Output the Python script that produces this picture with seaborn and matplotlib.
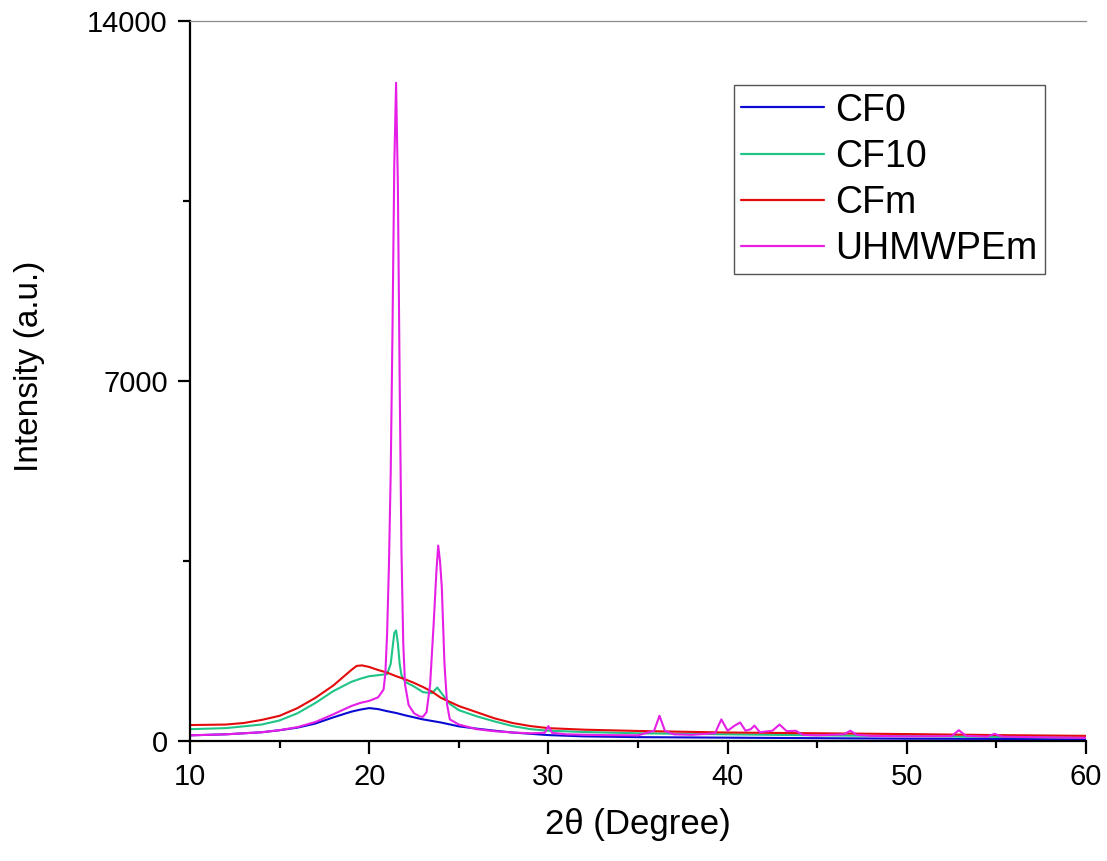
import matplotlib
matplotlib.use("Agg")
import matplotlib.pyplot as plt
from matplotlib.ticker import MultipleLocator
import seaborn as sns
import pandas as pd

# XRD patterns (2theta in degrees, intensity a.u.)
cf0_x = [10, 12, 14, 15, 16, 17, 18, 19, 19.5, 20, 20.5, 21, 21.5, 22, 23, 24, 25, 26,
         27, 28, 29, 30, 32, 35, 40, 45, 50, 55, 60]
cf0_y = [110, 130, 170, 210, 260, 340, 460, 570, 610, 640, 620, 580, 545, 500, 420, 360,
         285, 240, 200, 165, 140, 115, 90, 75, 65, 55, 45, 40, 35]

cf10_x = [10, 12, 14, 15, 16, 17, 18, 19, 19.5, 20, 20.5, 21, 21.2, 21.3, 21.4, 21.5, 21.6,
          21.7, 21.8, 22, 22.5, 23, 23.5, 23.8, 24.1, 24.5, 25, 26, 27, 28, 29, 30, 32, 35,
          40, 45, 50, 55, 60]
cf10_y = [230, 250, 320, 400, 540, 740, 970, 1150, 1210, 1260, 1280, 1300, 1500, 1800, 2100,
          2150, 1900, 1500, 1280, 1150, 1060, 950, 930, 1040, 900, 720, 600, 480, 380, 290,
          230, 200, 175, 150, 130, 110, 95, 80, 65]

cfm_x = [10, 12, 13, 14, 15, 16, 17, 18, 18.5, 19, 19.3, 19.6, 20, 20.5, 21, 21.5, 22, 22.5,
         23, 23.5, 24, 24.5, 25, 26, 27, 28, 29, 30, 32, 35, 40, 45, 50, 55, 60]
cfm_y = [310, 320, 350, 410, 490, 640, 840, 1080, 1230, 1380, 1460, 1470, 1440, 1380, 1330,
         1260, 1200, 1130, 1050, 960, 840, 760, 680, 560, 440, 350, 290, 250, 220, 195, 165,
         150, 135, 115, 100]

uhmw_x = [10, 12, 14, 15, 16, 17, 18, 19, 19.5, 20, 20.5, 20.8, 20.9, 21.0, 21.1, 21.2, 21.3,
          21.4, 21.5, 21.6, 21.7, 21.8, 21.9, 22.0, 22.2, 22.5, 22.8, 23.0, 23.2, 23.4, 23.6,
          23.75, 23.85, 23.95, 24.05, 24.2, 24.35, 24.5, 25, 26, 27, 28, 29, 29.8, 30.0, 30.2,
          31, 33, 35, 35.9, 36.2, 36.5, 37, 38, 39.3, 39.65, 40.0, 40.4, 40.7, 41.0, 41.3,
          41.5, 41.8, 42.5, 42.9, 43.3, 43.8, 44.2, 45, 46.5, 46.85, 47.2, 48, 50, 52.5, 52.9,
          53.3, 54.5, 54.9, 55.3, 57, 60]
uhmw_y = [110, 130, 170, 210, 270, 370, 520, 680, 740, 780, 850, 1000, 1300, 2100, 3400, 5200,
          8000, 11200, 12800, 10800, 7000, 3700, 1900, 1100, 700, 540, 480, 470, 560, 1100,
          2300, 3300, 3800, 3500, 3000, 1500, 700, 420, 320, 230, 190, 165, 150, 160, 290, 160,
          130, 115, 110, 200, 490, 200, 130, 120, 150, 420, 200, 300, 360, 200, 230, 300, 170,
          200, 320, 190, 200, 120, 110, 130, 200, 120, 100, 90, 95, 210, 100, 85, 140, 85, 75,
          60]

samples = ["CF0", "CF10", "CFm", "UHMWPEm"]
colors = {"CF0": "#0a0ad2", "CF10": "#1fc486", "CFm": "#e30b0b", "UHMWPEm": "#e61ee6"}

frames = []
for name, xs, ys in zip(samples, [cf0_x, cf10_x, cfm_x, uhmw_x], [cf0_y, cf10_y, cfm_y, uhmw_y]):
    frames.append(pd.DataFrame({"theta": xs, "intensity": ys, "sample": name}))
df = pd.concat(frames, ignore_index=True)

sns.set_style("ticks")
plt.rcParams['font.family'] = ['Liberation Sans', 'DejaVu Sans']
plt.rcParams['text.color'] = 'black'
plt.rcParams['axes.labelcolor'] = 'black'
plt.rcParams['xtick.color'] = 'black'
plt.rcParams['ytick.color'] = 'black'

fig = plt.figure(figsize=(11.07, 8.61), dpi=100)
ax = fig.add_axes([190 / 1107, 1 - 741 / 861, 896 / 1107, 720 / 861])

sns.lineplot(data=df, x="theta", y="intensity", hue="sample", hue_order=samples,
             palette=colors, linewidth=1.5, ax=ax, sort=False, estimator=None)

ax.set_xlim(10, 60)
ax.set_ylim(0, 14000)
ax.xaxis.set_major_locator(MultipleLocator(10))
ax.xaxis.set_minor_locator(MultipleLocator(5))
ax.set_yticks([0, 7000, 14000])
ax.yaxis.set_minor_locator(MultipleLocator(3500))
ax.tick_params(which="major", direction="out", length=9, width=1.6, labelsize=21, pad=7,
               color="black", labelcolor="black")
ax.tick_params(which="minor", direction="out", length=5, width=1.6, color="black")

for side in ["left", "bottom"]:
    ax.spines[side].set_linewidth(1.6)
    ax.spines[side].set_color("black")
ax.spines["top"].set_color("#8a8a8a")
ax.spines["top"].set_linewidth(0.9)
ax.spines["right"].set_visible(False)

ax.set_xlabel("2θ (Degree)", fontsize=25, labelpad=12)
ax.set_ylabel("Intensity (a.u.)", fontsize=24, labelpad=30)
ax.yaxis.label.set_y(0.521)

leg = ax.legend(loc="upper right", bbox_to_anchor=(0.954, 0.911), borderaxespad=0,
                fontsize=27, handlelength=2.2, handletextpad=0.3, labelspacing=0.27,
                borderpad=0.2, frameon=True, fancybox=False, framealpha=1,
                edgecolor="#555555", title=None)
leg.get_frame().set_linewidth(1.0)
for line in leg.get_lines():
    line.set_linewidth(1.6)

fig.savefig("out.png", dpi=100)
